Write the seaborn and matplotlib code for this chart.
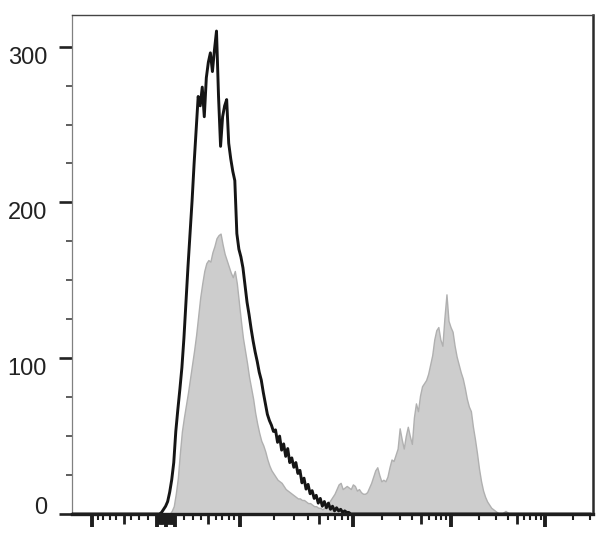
import numpy as np
import pandas as pd
import matplotlib
matplotlib.use("Agg")
import matplotlib.pyplot as plt
import matplotlib.transforms as mtransforms
import seaborn as sns

# ---------------------------------------------------------
# DATA: event counts per display channel (256-channel biex axis)
# ---------------------------------------------------------
GRAY_START = 48   # first channel of the filled (gray) histogram
gray_counts = [
    0, 2, 5, 13, 23, 39, 53, 62, 70, 78, 87, 96, 105, 115, 127, 139, 148, 156, 161, 163,
    162, 168, 172, 177, 179, 180, 173, 167, 163, 159, 155, 152, 156, 148, 136, 124, 113, 105, 97, 88,
    81, 74, 65, 58, 52, 47, 44, 40, 35, 31, 28, 26, 24, 22, 21, 20, 18, 16, 15, 14,
    13, 12, 11, 10, 10, 9, 9, 8, 7, 7, 6, 5, 5, 4, 4, 3, 4, 5, 7, 9,
    11, 13, 16, 19, 20, 16, 17, 18, 17, 16, 19, 18, 15, 16, 14, 13,
    13, 14, 17, 20, 24, 28, 30, 25, 21, 22, 21, 24, 30, 35, 34, 38, 42, 55, 48, 42,
    50, 56, 50, 45, 62, 71, 66, 76, 82, 84, 86, 90, 96, 102, 112, 118, 120, 112, 108, 126,
    141, 124, 120, 117, 108, 101, 96, 91, 87, 81, 74, 69, 66, 56, 48, 39, 29, 21, 15, 11,
    8, 6, 4, 3, 2, 1, 0, 0, 1, 2, 1, 0,
]

BLACK_START = 43  # first channel of the open (black) histogram
black_counts = [
    0, 1, 3, 5, 8, 14, 22, 33, 53, 67, 80, 94, 113, 136, 159, 180, 201, 225, 247, 268,
    262, 274, 255, 280, 290, 296, 284, 298, 310, 268, 236, 255, 262, 266, 238, 228, 220, 214, 180, 170,
    165, 158, 147, 136, 128, 119, 111, 104, 98, 91, 86, 78, 71, 64, 60, 57, 53, 54, 46, 50,
    41, 45, 37, 42, 33, 36, 30, 33, 26, 28, 20, 23, 16, 19, 13, 15, 10, 12, 7, 10,
    5, 8, 4, 7, 3, 5, 2, 4, 2, 3, 1, 2, 1, 1, 0,
]

y_ticks = [0, 100, 200, 300]
y_labels = ["0", "100", "200", "300"]

# x tick values (fluorescence units), grouped by tick length
x_long = [-100, -10, 0, 10, 100, 1e3, 1e4, 1e5]
x_medium = [-50, 50, 500, 5e3, 5e4] + [s * k for s in (-1, 1) for k in range(1, 10)]
x_short = ([s * k * 10 for s in (-1, 1) for k in (2, 3, 4, 6, 7, 8, 9)]
           + [k * 10 ** e for e in (2, 3, 4) for k in (2, 3, 4, 6, 7, 8, 9)]
           + [2e5, 3e5])

N_CHANNELS = 256


def biex(v):
    """Fluorescence value -> display channel (asinh near zero, log decades above 100)."""
    v = np.atleast_1d(np.asarray(v, dtype=float))
    a = np.abs(v)
    inner = 31.9 * np.arcsinh(np.minimum(a, 100) / 71.4)
    decades = np.log10(np.maximum(a, 100)) - 2
    outer = np.interp(decades, [0, 1, 2, 3, 4], [0, 55.5, 103.7, 149.9, 196.1])
    return 46.2 + np.sign(v) * (inner + outer)


gray_df = pd.DataFrame({"channel": np.arange(GRAY_START, GRAY_START + len(gray_counts)),
                        "count": gray_counts})
black_df = pd.DataFrame({"channel": np.arange(BLACK_START, BLACK_START + len(black_counts)),
                         "count": black_counts})

# ---------------------------------------------------------
# FIGURE
# ---------------------------------------------------------
sns.set_style("white")
plt.rcParams["font.family"] = ["Liberation Sans", "DejaVu Sans"]

fig = plt.figure(figsize=(6.08, 5.45), dpi=100)
ax = fig.add_axes([72 / 608, 31 / 545, 521 / 608, 499 / 545])

hist_kws = dict(x="channel", weights="count", binwidth=1, binrange=(-0.5, N_CHANNELS - 0.5),
                element="poly", ax=ax)
sns.histplot(data=gray_df, fill=True, color="#cdcdcd", edgecolor="#b0b0b0",
             linewidth=1.0, alpha=1, zorder=2, **hist_kws)
sns.histplot(data=black_df, fill=False, color="#151515", linewidth=2.1, zorder=3, **hist_kws)

ax.set_xlim(0, N_CHANNELS)
ax.set_ylim(0, 320.3)
ax.set_xlabel("")
ax.set_ylabel("")

# spines
ax.spines["left"].set_color("#808080")
ax.spines["left"].set_linewidth(0.9)
ax.spines["top"].set_color("#444444")
ax.spines["top"].set_linewidth(1.0)
ax.spines["right"].set_color("#2a2a2a")
ax.spines["right"].set_linewidth(1.8)
ax.spines["bottom"].set_color("#1e1e1e")
ax.spines["bottom"].set_linewidth(2.4)
ax.spines["bottom"].set_zorder(4)

# y axis
ax.set_yticks(y_ticks)
ax.set_yticklabels(y_labels)
ax.set_yticks(np.arange(0, 321, 25), minor=True)
ax.tick_params(axis="y", which="major", direction="out", length=9.5, width=1.9,
               color="#222222", pad=8.5, labelsize=17, labelcolor="#222222", left=True)
ax.tick_params(axis="y", which="minor", direction="out", length=4.5, width=1.1,
               color="#333333", left=True)
for lab, val in zip(ax.get_yticklabels(), y_ticks):
    dy = 0.085 if val == 0 else -0.085
    lab.set_transform(lab.get_transform() + mtransforms.ScaledTranslation(0, dy, fig.dpi_scale_trans))

# x axis: long / short ticks on the main axis, medium ticks on a twin axis
ax.set_xticks(biex(x_long))
ax.set_xticks(biex(x_short), minor=True)
ax.tick_params(axis="x", which="major", direction="out", length=9.5, width=2.8,
               color="#1e1e1e", labelbottom=False, bottom=True)
ax.tick_params(axis="x", which="minor", direction="out", length=4.3, width=1.5,
               color="#1e1e1e", bottom=True)

sec = ax.secondary_xaxis("bottom")
sec.spines["bottom"].set_visible(False)
sec.set_xticks(biex(x_medium))
sec.tick_params(axis="x", which="major", direction="out", length=7.3, width=2.0,
                color="#1e1e1e", labelbottom=False)
sec.tick_params(axis="x", which="minor", bottom=False)

fig.savefig("out.png", dpi=100, facecolor="white")
